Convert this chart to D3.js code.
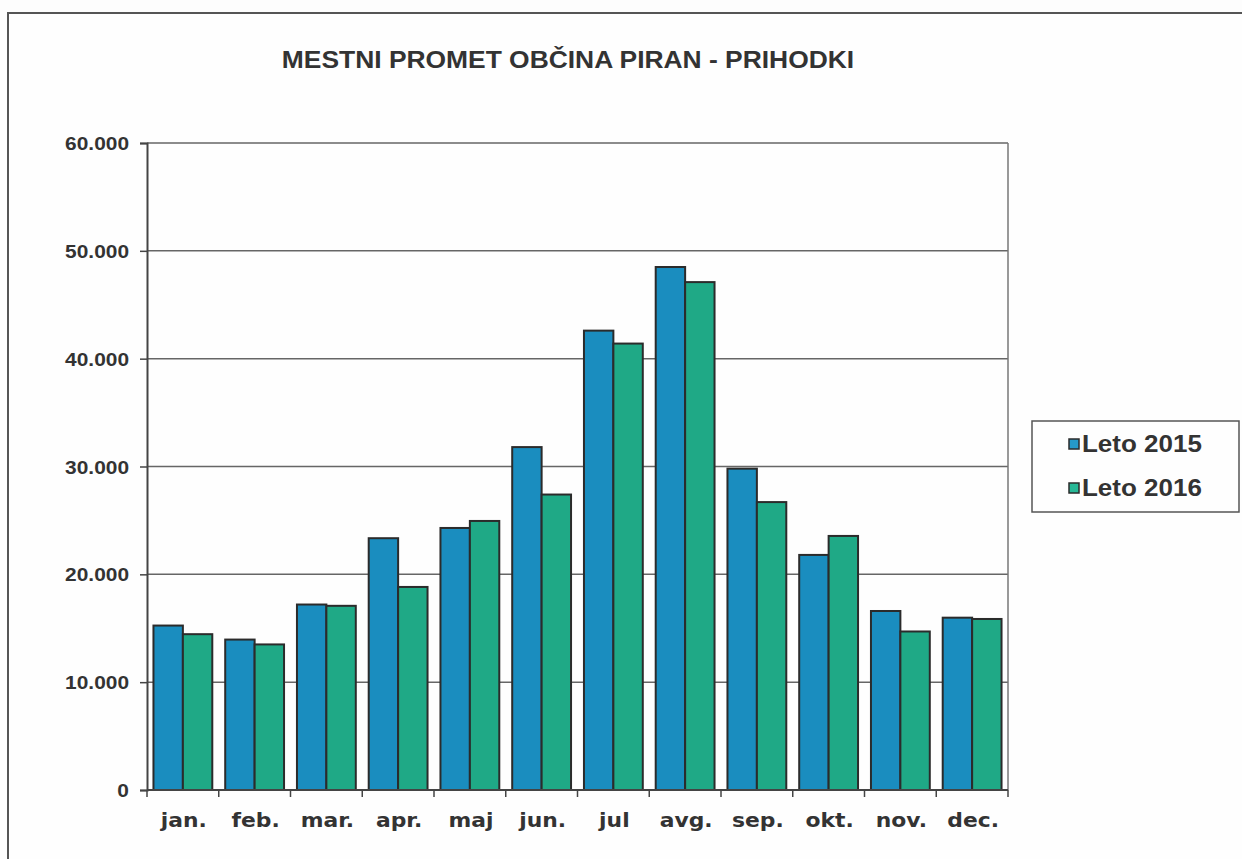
<!DOCTYPE html>
<html>
<head>
<meta charset="utf-8">
<script src="https://cdn.jsdelivr.net/npm/d3@7"></script>
<style>
  html, body { margin: 0; padding: 0; background: #fdfdfd; }
  svg { display: block; }
</style>
</head>
<body>
<svg id="chart" width="1242" height="859"></svg>
<script>
const title = "MESTNI PROMET OBČINA PIRAN - PRIHODKI";
const categories = ["jan.", "feb.", "mar.", "apr.", "maj", "jun.", "jul", "avg.", "sep.", "okt.", "nov.", "dec."];
const seriesNames = ["Leto 2015", "Leto 2016"];
const values2015 = [15250, 13950, 17200, 23350, 24300, 31800, 42600, 48500, 29800, 21800, 16600, 15980];
const values2016 = [14450, 13500, 17080, 18830, 24950, 27400, 41400, 47100, 26700, 23560, 14700, 15860];
const yTicks = [0, 10000, 20000, 30000, 40000, 50000, 60000];
const colors = ["#1a8dbf", "#1fa986"];
const legendColors = ["#2599c8", "#27b896"];

const svg = d3.select("#chart");

// outer frame
svg.append("rect").attr("x", 8).attr("y", 13).attr("width", 1260).attr("height", 880)
  .attr("fill", "#fefefe").attr("stroke", "#555").attr("stroke-width", 2);

const plot = { left: 147, right: 1008, top: 143, bottom: 790 };

const x = d3.scaleBand().domain(categories).range([plot.left, plot.right])
  .paddingInner(0.18).paddingOuter(0.09);
const xs = d3.scaleBand().domain(seriesNames).range([0, x.bandwidth()]).padding(0);
const y = d3.scaleLinear().domain([0, 60000]).range([plot.bottom, plot.top]);

const fmt = v => v === 0 ? "0" : d3.format(",")(v).replace(/,/g, ".");

// stretched text helper: text drawn at (px,py) scaled horizontally by sx
function stretchedText(sel, px, py, sx) {
  return sel.attr("x", 0).attr("y", 0)
    .attr("transform", (d, i) => `translate(${typeof px === "function" ? px(d, i) : px},${typeof py === "function" ? py(d, i) : py}) scale(${sx},1)`);
}

// gridlines
svg.append("g").selectAll("line").data(yTicks.filter(d => d > 0)).join("line")
  .attr("x1", plot.left).attr("x2", plot.right)
  .attr("y1", d => y(d)).attr("y2", d => y(d))
  .attr("stroke", "#666").attr("stroke-width", 1.5);

// right frame line
svg.append("line").attr("x1", plot.right).attr("x2", plot.right)
  .attr("y1", plot.top).attr("y2", plot.bottom)
  .attr("stroke", "#777").attr("stroke-width", 1.5);

// bars
const data = categories.map((c, i) => ({ c, vals: [values2015[i], values2016[i]] }));
const groups = svg.append("g").selectAll("g").data(data).join("g")
  .attr("transform", d => `translate(${x(d.c)},0)`);
groups.selectAll("rect").data(d => d.vals.map((v, k) => ({ v, k }))).join("rect")
  .attr("x", d => xs(seriesNames[d.k]))
  .attr("y", d => y(d.v))
  .attr("width", xs.bandwidth())
  .attr("height", d => plot.bottom - y(d.v))
  .attr("fill", d => colors[d.k])
  .attr("stroke", "#2b2b2b").attr("stroke-width", 2);

// y axis
const yAxis = d3.axisLeft(y).tickValues(yTicks).tickFormat(fmt).tickSize(7).tickPadding(12);
const gy = svg.append("g").attr("transform", `translate(${plot.left},0)`).call(yAxis);
gy.select(".domain").attr("stroke", "#444").attr("stroke-width", 2);
gy.selectAll(".tick line").attr("stroke", "#444").attr("stroke-width", 1.5);
gy.selectAll(".tick text")
  .attr("font-family", "'Liberation Sans', Arial, sans-serif")
  .attr("font-weight", "bold").attr("font-size", 19).attr("fill", "#333")
  .attr("dy", null)
  .attr("transform", "translate(-18,6.5) scale(1.1,1)").attr("x", 0);

// x axis
const gx = svg.append("g").attr("transform", `translate(0,${plot.bottom})`);
gx.append("line").attr("x1", plot.left).attr("x2", plot.right).attr("y1", 0).attr("y2", 0)
  .attr("stroke", "#444").attr("stroke-width", 2);
const step = x.step();
const bounds = categories.map(c => x(c) - x.paddingInner() * step / 2).concat([plot.right]);
gx.selectAll("line.tk").data(bounds).join("line").attr("class", "tk")
  .attr("x1", d => d).attr("x2", d => d).attr("y1", 0).attr("y2", 7)
  .attr("stroke", "#444").attr("stroke-width", 1.5);
stretchedText(gx.selectAll("text").data(categories).join("text"),
    d => x(d) + x.bandwidth() / 2 + 1, 37, 1.15)
  .attr("text-anchor", "middle")
  .attr("font-family", "'DejaVu Sans', Verdana, sans-serif").attr("font-weight", "bold")
  .attr("font-size", 19).attr("fill", "#333").text(d => d);

// title
stretchedText(svg.append("text"), 568, 68, 1.1).attr("text-anchor", "middle")
  .attr("font-family", "'Liberation Sans', Arial, sans-serif").attr("font-weight", "bold")
  .attr("font-size", 24).attr("fill", "#333").text(title);

// legend
const lg = svg.append("g");
lg.append("rect").attr("x", 1032).attr("y", 421).attr("width", 207).attr("height", 91)
  .attr("fill", "#fefefe").attr("stroke", "#555").attr("stroke-width", 1.5);
const items = lg.selectAll("g").data(seriesNames).join("g")
  .attr("transform", (d, i) => `translate(1069,${444 + i * 44})`);
items.append("rect").attr("x", 0).attr("y", -5).attr("width", 10).attr("height", 10)
  .attr("fill", (d, i) => legendColors[i]).attr("stroke", "#2b2b2b").attr("stroke-width", 1.5);
stretchedText(items.append("text"), 13, 8, 1.13)
  .attr("font-family", "'Liberation Sans', Arial, sans-serif").attr("font-weight", "bold")
  .attr("font-size", 23).attr("fill", "#333").text(d => d);
</script>
</body>
</html>
